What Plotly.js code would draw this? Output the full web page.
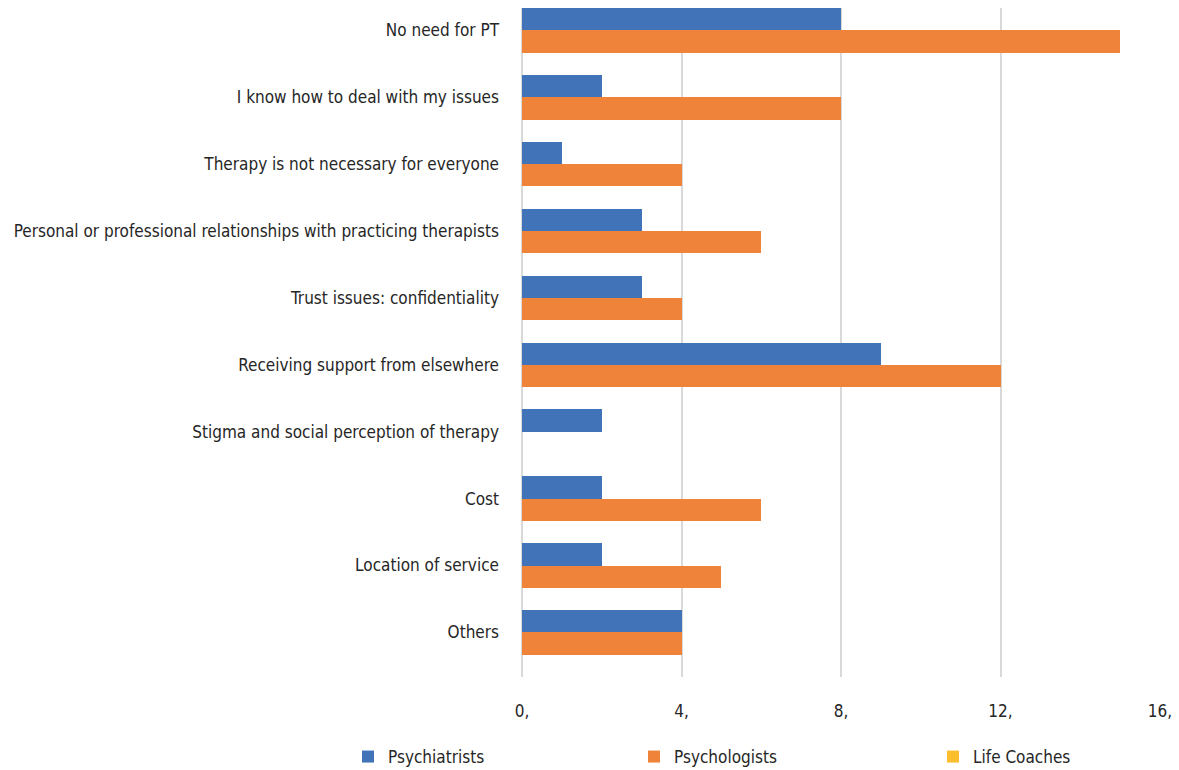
<!DOCTYPE html>
<html>
<head>
<meta charset="utf-8">
<script src="https://cdn.plot.ly/plotly-3.0.1.min.js"></script>
<style>html,body{margin:0;padding:0;background:#fff;}#chart{width:1179px;height:770px;}</style>
</head>
<body>
<div id="chart"></div>
<script>
const categories = [
  "No need for PT",
  "I know how to deal with my issues",
  "Therapy is not necessary for everyone",
  "Personal or professional relationships with practicing therapists",
  "Trust issues: confidentiality",
  "Receiving support from elsewhere",
  "Stigma and social perception of therapy",
  "Cost",
  "Location of service",
  "Others"
];
const psychiatrists = [8, 2, 1, 3, 3, 9, 2, 2, 2, 4];
const psychologists = [15, 8, 4, 6, 4, 12, 0, 6, 5, 4];
const lifeCoaches = [0, 0, 0, 0, 0, 0, 0, 0, 0, 0];
const seriesNames = ["Psychiatrists", "Psychologists", "Life Coaches"];
const xTickVals = [0, 4, 8, 12, 16];
const xTickText = ["0,", "4,", "8,", "12,", "16,"];

const FONT = "'DejaVu Sans Condensed', 'Liberation Sans Narrow', 'Arial Narrow', sans-serif";
const FS = 17;
const TXT = "#262626";
const colors = ["#4173B9", "#F0833A", "#FCBE2C"];
const legendIds = ["legend", "legend2", "legend3"];
const legendX = [348, 634, 933];
const w = 1/3;
const traces = [psychiatrists, psychologists, lifeCoaches].map((vals, i) => ({
  type: "bar",
  orientation: "h",
  name: seriesNames[i],
  y: categories,
  x: vals,
  width: w,
  offset: -w + i * w,
  legend: legendIds[i],
  marker: {color: colors[i], line: {width: 0}},
  hoverinfo: "x+y+name"
}));

const layout = {
  width: 1179,
  height: 770,
  margin: {l: 522, r: 19, t: 8, b: 93},
  paper_bgcolor: "#ffffff",
  plot_bgcolor: "#ffffff",
  font: {family: FONT, size: FS, color: TXT},
  barmode: "group",
  bargap: 0,
  bargroupgap: 0,
  showlegend: true,
  xaxis: {
    range: [0, 16],
    tickvals: xTickVals,
    ticktext: xTickText,
    showgrid: true,
    gridcolor: "#d9d9d9",
    gridwidth: 2,
    zeroline: true,
    zerolinecolor: "#d9d9d9",
    zerolinewidth: 2,
    showline: false,
    ticks: "",
    ticklabelstandoff: 22,
    tickfont: {family: FONT, size: FS, color: TXT},
    fixedrange: true
  },
  yaxis: {
    type: "category",
    range: [9 + 2/3, -1/3],
    showgrid: false,
    zeroline: false,
    showline: false,
    ticks: "",
    ticklabelstandoff: 22,
    tickfont: {family: FONT, size: FS, color: TXT},
    fixedrange: true
  }
};
legendIds.forEach((id, i) => {
  layout[id] = {
    orientation: "h",
    xref: "container",
    yref: "container",
    x: legendX[i] / 1179,
    xanchor: "left",
    y: (770 - 757) / 770,
    yanchor: "middle",
    bgcolor: "rgba(0,0,0,0)",
    font: {family: FONT, size: FS, color: TXT}
  };
});

Plotly.newPlot("chart", traces, layout, {displayModeBar: false, staticPlot: true});
</script>
</body>
</html>
